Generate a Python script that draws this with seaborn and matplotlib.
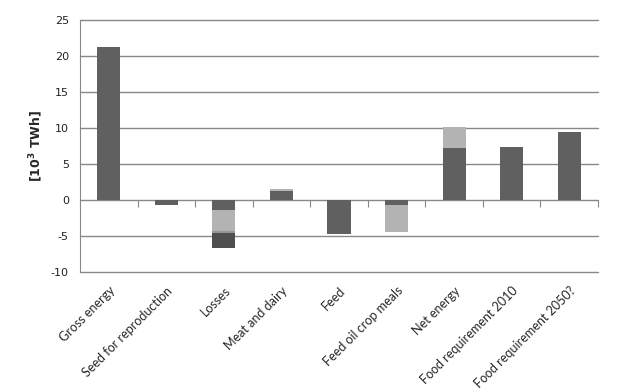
import numpy as np
import pandas as pd
import matplotlib
matplotlib.use("Agg")
import matplotlib.pyplot as plt
import seaborn as sns

sns.set_style("white")

# categories along the x axis
categories = [
    "Gross energy", "Seed for reproduction", "Losses", "Meat and dairy", "Feed",
    "Feed oil crop meals", "Net energy", "Food requirement 2010", "Food requirement 2050?",
]

# stacked series, 10^3 TWh
series_dark = [21.3, -0.75, -1.45, 1.25, -4.75, -0.7, 7.2, 7.3, 9.5]
series_light = [0, 0, -2.85, 0.25, 0, -3.7, 2.9, 0, 0]
series_mid = [0, 0, -0.3, 0, 0, 0, 0, 0, 0]
series_darkest = [0, 0, -2.05, 0, 0, 0, 0, 0, 0]

series = [series_dark, series_light, series_mid, series_darkest]
colors = ["#606060", "#b3b3b3", "#969696", "#4f4f4f"]

yticks = [-10, -5, 0, 5, 10, 15, 20, 25]

fig = plt.figure(figsize=(6.37, 3.91), dpi=100)
ax = fig.add_axes([80 / 637, 1 - 272 / 391, 518 / 637, 252 / 391])

pos_base = np.zeros(len(categories))
neg_base = np.zeros(len(categories))
for vals, col in zip(series, colors):
    vals = np.array(vals, dtype=float)
    bottom = np.where(vals >= 0, pos_base, neg_base)
    df = pd.DataFrame({"cat": categories, "val": vals})
    sns.barplot(data=df, x="cat", y="val", order=categories, color=col,
                width=0.4, bottom=bottom, saturation=1, linewidth=0, ax=ax)
    pos_base += np.clip(vals, 0, None)
    neg_base += np.clip(vals, None, 0)

ax.set_ylim(-10, 25)
ax.set_xlim(-0.5, len(categories) - 0.5)
ax.set_yticks(yticks)
ax.set_yticklabels([str(t) for t in yticks], fontsize=8, color="#222222")
ax.yaxis.grid(True, color="#888888", linewidth=1)
for gl in ax.get_ygridlines():
    gl.set_clip_on(False)
ax.set_axisbelow(True)

for s in ["top", "right", "bottom"]:
    ax.spines[s].set_visible(False)
ax.spines["left"].set_color("#888888")
ax.tick_params(axis="y", length=5, color="#888888", pad=3)

ax.set_xlabel("")
ax.set_xticks(range(len(categories)))
ax.set_xticklabels(categories, rotation=45, ha="right", rotation_mode="anchor",
                   fontsize=9, family=["Lato", "DejaVu Sans"])
ax.tick_params(axis="x", length=0, pad=9)

# zero line tick marks at category boundaries
zero_frac = 10 / 35
sec = ax.secondary_xaxis(zero_frac)
sec.set_xticks(np.arange(0.5, len(categories) - 0.4, 1.0))
sec.set_xticklabels([])
sec.tick_params(axis="x", direction="out", length=5, color="#888888")
sec.spines["bottom"].set_visible(False)
sec.spines["top"].set_visible(False)

ax.set_ylabel("[10$^\\mathbf{3}$ TWh]", fontsize=9, fontweight="bold", labelpad=4)

fig.savefig("out.png", dpi=100)
